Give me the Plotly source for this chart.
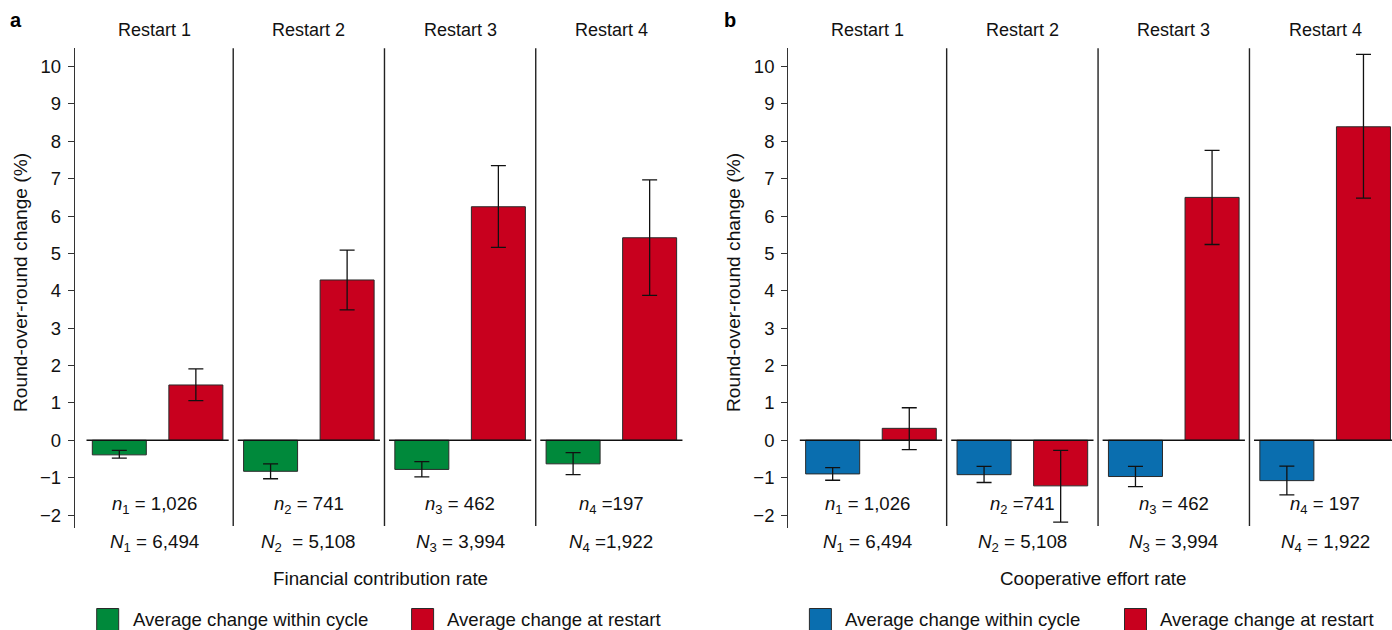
import plotly.graph_objects as go

# ---------------- data ----------------
restarts = ["Restart 1", "Restart 2", "Restart 3", "Restart 4"]
y_tickvals = [-2, -1, 0, 1, 2, 3, 4, 5, 6, 7, 8, 9, 10]
y_ticktext = ["\u22122", "\u22121", "0", "1", "2", "3", "4", "5", "6", "7", "8", "9", "10"]

# Panel a: financial contribution rate
fin_within = [-0.39, -0.83, -0.78, -0.63]
fin_within_lo = [-0.48, -1.03, -0.98, -0.92]
fin_within_hi = [-0.27, -0.63, -0.57, -0.33]
fin_restart = [1.48, 4.29, 6.25, 5.42]
fin_restart_lo = [1.06, 3.49, 5.16, 3.88]
fin_restart_hi = [1.91, 5.09, 7.35, 6.97]

# Panel b: cooperative effort rate
coop_within = [-0.90, -0.92, -0.97, -1.08]
coop_within_lo = [-1.07, -1.13, -1.24, -1.46]
coop_within_hi = [-0.73, -0.70, -0.70, -0.69]
coop_restart = [0.32, -1.22, 6.50, 8.39]
coop_restart_lo = [-0.25, -2.19, 5.24, 6.48]
coop_restart_hi = [0.87, -0.27, 7.76, 10.33]

n_labels_a = ["<i>n</i><sub>1</sub> = 1,026", "<i>n</i><sub>2</sub> = 741",
              "<i>n</i><sub>3</sub> = 462", "<i>n</i><sub>4</sub> =197"]
N_labels_a = ["<i>N</i><sub>1</sub> = 6,494", "<i>N</i><sub>2</sub>\u00a0 = 5,108",
              "<i>N</i><sub>3</sub> = 3,994", "<i>N</i><sub>4</sub> =1,922"]
n_labels_b = ["<i>n</i><sub>1</sub> = 1,026", "<i>n</i><sub>2</sub> =741",
              "<i>n</i><sub>3</sub> = 462", "<i>n</i><sub>4</sub> = 197"]
N_labels_b = ["<i>N</i><sub>1</sub> = 6,494", "<i>N</i><sub>2</sub> = 5,108",
              "<i>N</i><sub>3</sub> = 3,994", "<i>N</i><sub>4</sub> = 1,922"]

axis_titles = ["Financial contribution rate", "Cooperative effort rate"]
y_title = "Round-over-round change (%)"
legend_labels = ["Average change within cycle", "Average change at restart"]

# ---------------- style ----------------
GREEN = "#00893B"
RED = "#C8001E"
BLUE = "#0A6EAF"
FONT = "Liberation Sans, Arial, Helvetica, sans-serif"
TXT = "#111111"
FS = 18
W, H = 1392, 630

def px_x(p):
    return p / W

def px_y(p):
    return (H - p) / H

X0 = -0.546
Y_RANGE = [-2.334, 10.49]
OFF = 0.253
BW = 0.357

fig = go.Figure()
shapes = []
annotations = []

def txt(size=FS, **kw):
    d = dict(showarrow=False, xanchor="center", yanchor="middle",
             font=dict(size=size, color=TXT, family=FONT))
    d.update(kw)
    return d

panels = [
    dict(xa="x", ya="y", within=(fin_within, fin_within_lo, fin_within_hi),
         restart=(fin_restart, fin_restart_lo, fin_restart_hi), col=GREEN,
         n=n_labels_a, N=N_labels_a, title=axis_titles[0], letter="a",
         dom=[px_x(75), px_x(687)], xend=3.5, letter_x=16, ytitle_x=20, title_cx=380,
         leg=[(96.7, 130.7), (411.6, 445)]),
    dict(xa="x2", ya="y2", within=(coop_within, coop_within_lo, coop_within_hi),
         restart=(coop_restart, coop_restart_lo, coop_restart_hi), col=BLUE,
         n=n_labels_b, N=N_labels_b, title=axis_titles[1], letter="b",
         dom=[px_x(788.3), 1.0], xend=X0 + (W - 788.3) / 151.4, letter_x=730, ytitle_x=733,
         title_cx=1093, leg=[(809.4, 843.4), (1124.5, 1157.6)]),
]

for pi, p in enumerate(panels):
    pos = list(range(len(restarts)))
    v, lo, hi = p["within"]
    fig.add_trace(go.Bar(
        x=[k - OFF for k in pos], y=v, width=BW, xaxis=p["xa"], yaxis=p["ya"],
        marker=dict(color=p["col"], line=dict(color="#2a2a2a", width=1)),
        error_y=dict(type="data", symmetric=False,
                     array=[h - a for h, a in zip(hi, v)],
                     arrayminus=[a - l for a, l in zip(v, lo)],
                     color="#111111", thickness=1.3, width=7.5),
        showlegend=False, name=legend_labels[0]))
    v, lo, hi = p["restart"]
    fig.add_trace(go.Bar(
        x=[k + OFF for k in pos], y=v, width=BW, xaxis=p["xa"], yaxis=p["ya"],
        marker=dict(color=RED, line=dict(color="#2a2a2a", width=1)),
        error_y=dict(type="data", symmetric=False,
                     array=[h - a for h, a in zip(hi, v)],
                     arrayminus=[a - l for a, l in zip(v, lo)],
                     color="#111111", thickness=1.3, width=7.5),
        showlegend=False, name=legend_labels[1]))

    xr = p["xa"]
    yr = p["ya"]
    # separators
    for k in pos[:-1]:
        shapes.append(dict(type="line", xref=xr, yref=f"{yr} domain", x0=k + 0.5, x1=k + 0.5,
                           y0=0.003, y1=1, line=dict(color="#222222", width=1.4)))
    # zero line segments
    for k in pos:
        shapes.append(dict(type="line", xref=xr, yref=yr, x0=k - 0.47, x1=k + 0.47,
                           y0=0, y1=0, line=dict(color="#111111", width=1.5)))
    # text per panel
    for k in pos:
        cx = (X0 + 0.5) / 2 if k == 0 else k
        annotations.append(txt(x=cx, y=px_y(30), xref=xr, yref="paper", text=restarts[k]))
        annotations.append(txt(size=18.6, x=cx, y=-1.73, xref=xr, yref=yr, text=p["n"][k]))
        annotations.append(txt(size=18.8, x=cx, y=px_y(543), xref=xr, yref="paper", text=p["N"][k]))
    # axis title (x)
    annotations.append(txt(size=18.8, x=px_x(p["title_cx"]), y=px_y(578), xref="paper", yref="paper",
                           text=p["title"]))
    # y title
    annotations.append(txt(size=19.2, x=px_x(p["ytitle_x"]), y=px_y(283), xref="paper", yref="paper",
                           text=y_title, textangle=-90))
    # panel letter
    annotations.append(txt(x=px_x(p["letter_x"]), y=px_y(20), xref="paper", yref="paper",
                           text=f"<b>{p['letter']}</b>",
                           font=dict(size=20, color="#000000", family=FONT)))
    # legend
    cols = [p["col"], RED]
    for (bx, tx), c, lab in zip(p["leg"], cols, legend_labels):
        shapes.append(dict(type="rect", xref="paper", yref="paper",
                           x0=px_x(bx), x1=px_x(bx + 22), y0=px_y(631), y1=px_y(608.5),
                           fillcolor=c, line=dict(color="#2a2a2a", width=1)))
        annotations.append(txt(size=18.6, x=px_x(tx), y=px_y(619.5), xref="paper", yref="paper",
                               text=lab, xanchor="left"))

ydom = [px_y(527.5), px_y(48.3)]
yaxis_common = dict(range=Y_RANGE, domain=ydom, showline=True, linecolor="#333333", linewidth=1.3,
                    ticks="outside", ticklen=6, tickwidth=1.2, tickcolor="#333333",
                    tickvals=y_tickvals, ticktext=y_ticktext, showgrid=False, zeroline=False,
                    ticklabelstandoff=3,
                    automargin=False, tickfont=dict(size=18.5, color=TXT, family=FONT))
xaxis_common = dict(visible=False, showgrid=False, zeroline=False, automargin=False)

fig.update_layout(
    template="none",
    width=W, height=H,
    margin=dict(l=0, r=0, t=0, b=0),
    paper_bgcolor="white", plot_bgcolor="rgba(0,0,0,0)",
    barmode="overlay",
    showlegend=False,
    font=dict(family=FONT, size=FS, color=TXT),
    xaxis=dict(domain=panels[0]["dom"], range=[X0, panels[0]["xend"]], anchor="y", **xaxis_common),
    xaxis2=dict(domain=panels[1]["dom"], range=[X0, panels[1]["xend"]], anchor="y2", **xaxis_common),
    yaxis=dict(anchor="x", **yaxis_common),
    yaxis2=dict(anchor="x2", **yaxis_common),
    shapes=shapes,
    annotations=annotations,
)

fig.write_html("out.html", config={"displayModeBar": False},
               post_script="document.body.style.margin='0';document.body.style.padding='0';")
